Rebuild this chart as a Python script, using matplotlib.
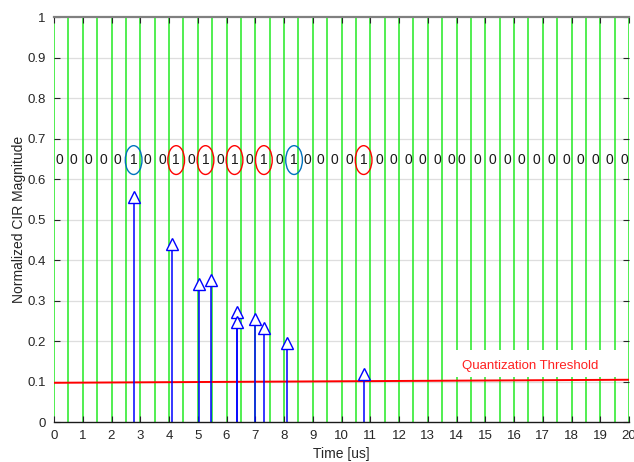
import matplotlib
matplotlib.use("Agg")
import matplotlib.pyplot as plt
from matplotlib.patches import Ellipse, Rectangle
import numpy as np

plt.rcParams['font.family'] = ['Liberation Sans', 'DejaVu Sans']

# ---- data ----
path_times = [2.79, 4.10, 5.03, 5.46, 6.38, 6.38, 6.99, 7.32, 8.11, 10.78]
path_mags = [0.555, 0.441, 0.342, 0.350, 0.272, 0.248, 0.256, 0.232, 0.195, 0.118]

bits = [0, 0, 0, 0, 0, 1, 0, 0, 1, 0, 1, 0, 1, 0, 1, 0, 1, 0, 0, 0,
        0, 1, 0, 0, 0, 0, 0, 0, 0, 0, 0, 0, 0, 0, 0, 0, 0, 0, 0, 0]
bit_x = [0.18, 0.68, 1.20, 1.71, 2.22, 2.77, 3.26, 3.77, 4.25, 4.77,
         5.27, 5.77, 6.28, 6.78, 7.30, 7.84, 8.35, 8.82, 9.26, 9.75,
         10.26, 10.77, 11.31, 11.81, 12.32, 12.82, 13.32, 13.83, 14.16, 14.71,
         15.26, 15.76, 16.27, 16.77, 17.29, 17.81, 18.31, 18.83, 19.32, 19.83]
bit_y = 0.647
# ellipse colour class for each "1": 'b' (blue) or 'r' (red)
one_colors = ['b', 'r', 'r', 'r', 'r', 'b', 'r']

thr_x = [0, 20]
thr_y = [0.0975, 0.105]
thr_label = "Quantization Threshold"

slot_edges = np.arange(0, 20.01, 0.5)
xticks = list(range(0, 21))
yticks = [0, 0.1, 0.2, 0.3, 0.4, 0.5, 0.6, 0.7, 0.8, 0.9, 1]
ytick_labels = ["0", "0.1", "0.2", "0.3", "0.4", "0.5", "0.6", "0.7", "0.8", "0.9", "1"]

# ---- figure ----
fig = plt.figure(figsize=(6.34, 4.62), dpi=100)
ax = fig.add_axes([54/634, 1 - 422.3/462, (629 - 54)/634, (422.3 - 17)/462])
ax.set_xlim(0, 20)
ax.set_ylim(0, 1)

# horizontal grid
for yv in yticks[1:-1]:
    ax.axhline(yv, color='#dedede', lw=0.9, zorder=0.5)

# green slot lines
for xe in slot_edges:
    ax.axvline(xe, color='#22ea22', lw=1.1, zorder=1)

# white box behind threshold label
ax.add_patch(Rectangle((13.9, 0.112), 5.75, 0.066, facecolor='white',
                       edgecolor='none', zorder=1.5))
ax.text(16.55, 0.139, thr_label, color='#ff2020', fontsize=9.5,
        ha='center', va='center', zorder=3)

# threshold line
ax.plot(thr_x, thr_y, color='#ff0000', lw=1.4, zorder=2.5)

# stems
ax.vlines(path_times, 0, path_mags, color='#0000ff', lw=1.1, zorder=3)
ax.plot(path_times, path_mags, linestyle='none', marker='^', markersize=8,
        markerfacecolor='white', markeredgecolor='#0000ff', markeredgewidth=1.0,
        zorder=4)

# bit labels
k = 0
for xb, b in zip(bit_x, bits):
    ax.text(xb, bit_y, str(b), fontsize=10, ha='center', va='center',
            color='#1a1a1a', zorder=3)
    if b == 1:
        c = '#0072BD' if one_colors[k] == 'b' else '#ff0000'
        ax.add_patch(Ellipse((xb, bit_y), 0.58, 0.071, facecolor='none',
                             edgecolor=c, lw=1.0, zorder=3))
        k += 1

# axes styling
ax.set_xticks(xticks)
ax.set_xticklabels([str(t) for t in xticks])
ax.set_yticks(yticks)
ax.set_yticklabels(ytick_labels)
ax.tick_params(direction='in', length=4, width=0.8, colors='#262626',
               labelsize=9.5, top=True, right=True)
ax.tick_params(axis='x', pad=5.5)
ax.tick_params(axis='y', pad=6)
ax.spines['left'].set_visible(False)
ax.spines['right'].set_visible(False)
ax.spines['top'].set_color('#808080')
ax.spines['top'].set_linewidth(1.6)
ax.spines['bottom'].set_color('#1a1a1a')
ax.spines['bottom'].set_linewidth(1.0)
for s in ax.spines.values():
    s.set_zorder(5)

ax.set_xlabel("Time [us]", fontsize=10, color='#262626', labelpad=3.5)
ax.set_ylabel("Normalized CIR Magnitude", fontsize=10, color='#262626', labelpad=1)

fig.savefig("out.png", dpi=100)
